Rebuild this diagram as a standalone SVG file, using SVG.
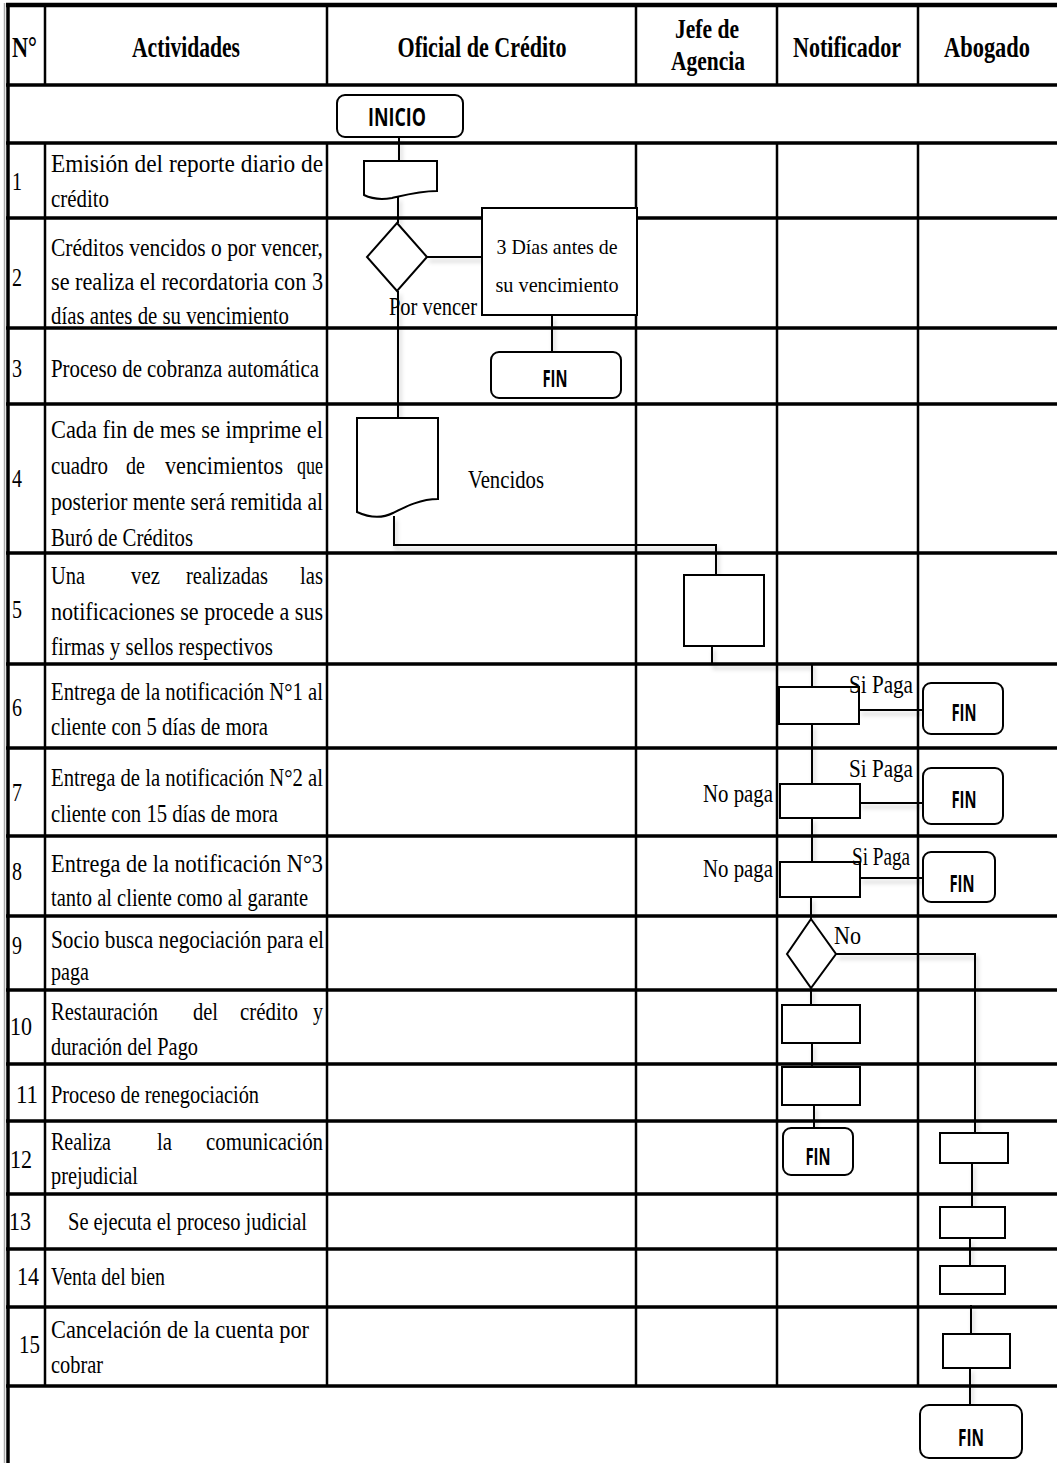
<svg xmlns="http://www.w3.org/2000/svg" width="1057" height="1463" viewBox="0 0 1057 1463">
<defs>
<style>
.gh{stroke:#000;stroke-width:3.5;fill:none}
.gv{stroke:#000;stroke-width:2.5;fill:none}
.hdr{font-family:"Liberation Serif",serif;font-weight:bold;font-size:30px;fill:#000;text-anchor:middle}
.hdr2{font-family:"Liberation Serif",serif;font-weight:bold;font-size:27px;fill:#000;text-anchor:middle}
.txt{font-family:"Liberation Serif",serif;font-size:25px;fill:#000}
.lbl{font-family:"Liberation Serif",serif;font-size:25px;fill:#000}
.term{font-family:"Open Sans","Liberation Sans",sans-serif;font-weight:bold;font-size:23px;fill:#000;text-anchor:middle}
.shape{fill:#fff;stroke:#000;stroke-width:2}
.conn{fill:none;stroke:#000;stroke-width:2}
</style>
<filter id="sh" x="-10%" y="-10%" width="130%" height="130%">
<feDropShadow dx="2" dy="4" stdDeviation="2" flood-color="#000" flood-opacity="0.22"/>
</filter>
</defs>
<rect width="1057" height="1463" fill="#fff"/>

<g id="grid">
<line x1="4.5" y1="3" x2="4.5" y2="1463" stroke="#aaa" stroke-width="1.5"/>
<line x1="8" y1="3" x2="8" y2="1463" stroke="#000" stroke-width="3.5"/>
<line x1="6" y1="5" x2="1057" y2="5" stroke="#000" stroke-width="4.5"/>
<path class="gh" d="M6 85H1057M6 143H1057M6 218H1057M6 328H1057M6 404H1057M6 553H1057M6 664H1057M6 748H1057M6 836H1057M6 916H1057M6 990H1057M6 1064H1057M6 1121H1057M6 1194H1057M6 1249H1057M6 1307H1057M6 1386H1057"/>
<path class="gv" d="M45 5V85M327 5V85M636 5V85M777 5V85M918 5V85M45 143V1386M327 143V1386M636 143V1386M777 143V1386M918 143V1386"/>
</g>

<g id="header">
<text class="hdr" x="24.5" y="57" textLength="25" lengthAdjust="spacingAndGlyphs">N°</text>
<text class="hdr" x="186" y="57" textLength="108" lengthAdjust="spacingAndGlyphs">Actividades</text>
<text class="hdr" x="482" y="57" textLength="169" lengthAdjust="spacingAndGlyphs">Oficial de Crédito</text>
<text class="hdr2" x="707" y="38" textLength="64" lengthAdjust="spacingAndGlyphs">Jefe de</text>
<text class="hdr2" x="708" y="70" textLength="74" lengthAdjust="spacingAndGlyphs">Agencia</text>
<text class="hdr" x="847" y="57" textLength="108" lengthAdjust="spacingAndGlyphs">Notificador</text>
<text class="hdr" x="987" y="57" textLength="86" lengthAdjust="spacingAndGlyphs">Abogado</text>
</g>

<g id="activities">
<text class="txt" x="12" y="190" textLength="10" lengthAdjust="spacingAndGlyphs">1</text>
<text class="txt" x="51" y="172" textLength="272" lengthAdjust="spacingAndGlyphs">Emisión del reporte diario de</text>
<text class="txt" x="51" y="207" textLength="58" lengthAdjust="spacingAndGlyphs">crédito</text>

<text class="txt" x="12" y="286" textLength="10" lengthAdjust="spacingAndGlyphs">2</text>
<text class="txt" x="51" y="256" textLength="272" lengthAdjust="spacingAndGlyphs">Créditos vencidos o por vencer,</text>
<text class="txt" x="51" y="290" textLength="272" lengthAdjust="spacingAndGlyphs">se realiza el recordatoria con 3</text>
<text class="txt" x="51" y="324" textLength="238" lengthAdjust="spacingAndGlyphs">días antes de su vencimiento</text>

<text class="txt" x="12" y="377" textLength="10" lengthAdjust="spacingAndGlyphs">3</text>
<text class="txt" x="51" y="377" textLength="268" lengthAdjust="spacingAndGlyphs">Proceso de cobranza automática</text>

<text class="txt" x="12" y="487" textLength="10" lengthAdjust="spacingAndGlyphs">4</text>
<text class="txt" x="51" y="438" textLength="272" lengthAdjust="spacingAndGlyphs">Cada fin de mes se imprime el</text>
<text class="txt" x="51" y="474" textLength="57" lengthAdjust="spacingAndGlyphs">cuadro</text>
<text class="txt" x="126" y="474" textLength="19" lengthAdjust="spacingAndGlyphs">de</text>
<text class="txt" x="165" y="474" textLength="118" lengthAdjust="spacingAndGlyphs">vencimientos</text>
<text class="txt" x="297" y="474" textLength="26" lengthAdjust="spacingAndGlyphs">que</text>
<text class="txt" x="51" y="510" textLength="272" lengthAdjust="spacingAndGlyphs">posterior mente será remitida al</text>
<text class="txt" x="51" y="546" textLength="142" lengthAdjust="spacingAndGlyphs">Buró de Créditos</text>

<text class="txt" x="12" y="618" textLength="10" lengthAdjust="spacingAndGlyphs">5</text>
<text class="txt" x="51" y="584" textLength="34" lengthAdjust="spacingAndGlyphs">Una</text>
<text class="txt" x="131" y="584" textLength="29" lengthAdjust="spacingAndGlyphs">vez</text>
<text class="txt" x="186" y="584" textLength="82" lengthAdjust="spacingAndGlyphs">realizadas</text>
<text class="txt" x="300" y="584" textLength="23" lengthAdjust="spacingAndGlyphs">las</text>
<text class="txt" x="51" y="620" textLength="272" lengthAdjust="spacingAndGlyphs">notificaciones se procede a sus</text>
<text class="txt" x="51" y="655" textLength="222" lengthAdjust="spacingAndGlyphs">firmas y sellos respectivos</text>

<text class="txt" x="12" y="716" textLength="10" lengthAdjust="spacingAndGlyphs">6</text>
<text class="txt" x="51" y="700" textLength="272" lengthAdjust="spacingAndGlyphs">Entrega de la notificación N°1 al</text>
<text class="txt" x="51" y="735" textLength="217" lengthAdjust="spacingAndGlyphs">cliente con 5 días de mora</text>

<text class="txt" x="12" y="801" textLength="10" lengthAdjust="spacingAndGlyphs">7</text>
<text class="txt" x="51" y="786" textLength="272" lengthAdjust="spacingAndGlyphs">Entrega de la notificación N°2 al</text>
<text class="txt" x="51" y="822" textLength="227" lengthAdjust="spacingAndGlyphs">cliente con 15 días de mora</text>

<text class="txt" x="12" y="880" textLength="10" lengthAdjust="spacingAndGlyphs">8</text>
<text class="txt" x="51" y="872" textLength="272" lengthAdjust="spacingAndGlyphs">Entrega de la notificación N°3</text>
<text class="txt" x="51" y="906" textLength="257" lengthAdjust="spacingAndGlyphs">tanto al cliente como al garante</text>

<text class="txt" x="12" y="954" textLength="10" lengthAdjust="spacingAndGlyphs">9</text>
<text class="txt" x="51" y="948" textLength="273" lengthAdjust="spacingAndGlyphs">Socio busca negociación para el</text>
<text class="txt" x="51" y="980" textLength="38" lengthAdjust="spacingAndGlyphs">paga</text>

<text class="txt" x="10" y="1035" textLength="22" lengthAdjust="spacingAndGlyphs">10</text>
<text class="txt" x="51" y="1020" textLength="107" lengthAdjust="spacingAndGlyphs">Restauración</text>
<text class="txt" x="193" y="1020" textLength="25" lengthAdjust="spacingAndGlyphs">del</text>
<text class="txt" x="240" y="1020" textLength="58" lengthAdjust="spacingAndGlyphs">crédito</text>
<text class="txt" x="313" y="1020" textLength="10" lengthAdjust="spacingAndGlyphs">y</text>
<text class="txt" x="51" y="1055" textLength="147" lengthAdjust="spacingAndGlyphs">duración del Pago</text>

<text class="txt" x="16" y="1103" textLength="22" lengthAdjust="spacingAndGlyphs">11</text>
<text class="txt" x="51" y="1103" textLength="208" lengthAdjust="spacingAndGlyphs">Proceso de renegociación</text>

<text class="txt" x="10" y="1168" textLength="22" lengthAdjust="spacingAndGlyphs">12</text>
<text class="txt" x="51" y="1150" textLength="60" lengthAdjust="spacingAndGlyphs">Realiza</text>
<text class="txt" x="157" y="1150" textLength="15" lengthAdjust="spacingAndGlyphs">la</text>
<text class="txt" x="206" y="1150" textLength="117" lengthAdjust="spacingAndGlyphs">comunicación</text>
<text class="txt" x="51" y="1184" textLength="87" lengthAdjust="spacingAndGlyphs">prejudicial</text>

<text class="txt" x="9" y="1230" textLength="22" lengthAdjust="spacingAndGlyphs">13</text>
<text class="txt" x="68" y="1230" textLength="239" lengthAdjust="spacingAndGlyphs">Se ejecuta el proceso judicial</text>

<text class="txt" x="17" y="1285" textLength="22" lengthAdjust="spacingAndGlyphs">14</text>
<text class="txt" x="51" y="1285" textLength="114" lengthAdjust="spacingAndGlyphs">Venta del bien</text>

<text class="txt" x="19" y="1353" textLength="21" lengthAdjust="spacingAndGlyphs">15</text>
<text class="txt" x="51" y="1338" textLength="258" lengthAdjust="spacingAndGlyphs">Cancelación de la cuenta por</text>
<text class="txt" x="51" y="1373" textLength="52" lengthAdjust="spacingAndGlyphs">cobrar</text>
</g>

<g id="connectors" filter="url(#sh)">
<path class="conn" d="M399 137V161"/>
<path class="conn" d="M398 197V223"/>
<path class="conn" d="M427 257H482"/>
<path class="conn" d="M552 315V352"/>
<path class="conn" d="M398 291V420"/>
<path class="conn" d="M394 516V545H716V575"/>
<path class="conn" d="M712 646V664H812V687"/>
<path class="conn" d="M859 710H923"/>
<path class="conn" d="M812 724V784"/>
<path class="conn" d="M860 803H923"/>
<path class="conn" d="M812 818V862"/>
<path class="conn" d="M860 878H923"/>
<path class="conn" d="M811 897V919"/>
<path class="conn" d="M836 954H975V1133"/>
<path class="conn" d="M811 988V1005"/>
<path class="conn" d="M812 1043V1067"/>
<path class="conn" d="M814 1105V1128"/>
<path class="conn" d="M972 1163V1207"/>
<path class="conn" d="M970 1238V1266"/>
<path class="conn" d="M971 1305V1334"/>
<path class="conn" d="M970 1368V1405"/>
</g>

<g id="n-inicio"><rect class="shape" x="337" y="95" width="126" height="42" rx="8"/><text class="term" x="397" y="126" textLength="58" lengthAdjust="spacingAndGlyphs" style="font-size:25px">INICIO</text></g>
<g id="n-doc1"><path class="shape" d="M364 161H437V191C420 191 405 195 392 198C380 200 372 199 364 195Z"/></g>
<g id="n-dec1"><path class="shape" d="M397 223L427 257L397 291L367 257Z"/></g>
<g id="n-3dias"><rect class="shape" x="482" y="208" width="155" height="107"/>
<text class="lbl" x="557" y="254" textLength="121" lengthAdjust="spacingAndGlyphs" style="font-size:21px;text-anchor:middle">3 Días antes de</text>
<text class="lbl" x="557" y="292" textLength="123" lengthAdjust="spacingAndGlyphs" style="font-size:21px;text-anchor:middle">su vencimiento</text></g>
<g id="n-fin1"><rect class="shape" x="491" y="352" width="130" height="46" rx="8"/><text class="term" x="555" y="387" textLength="25" lengthAdjust="spacingAndGlyphs">FIN</text></g>
<g id="n-doc2"><path class="shape" d="M357 418H438V499C420 499 405 507 393 513C383 518 370 518 357 512Z"/></g>
<g id="n-jefe5"><rect class="shape" x="684" y="575" width="80" height="71"/></g>
<g id="n-not6"><rect class="shape" x="779" y="687" width="80" height="37"/></g>
<g id="n-fin6"><rect class="shape" x="923" y="683" width="80" height="51" rx="8"/><text class="term" x="964" y="721" textLength="25" lengthAdjust="spacingAndGlyphs">FIN</text></g>
<g id="n-not7"><rect class="shape" x="780" y="784" width="80" height="34"/></g>
<g id="n-fin7"><rect class="shape" x="923" y="768" width="80" height="56" rx="8"/><text class="term" x="964" y="808" textLength="25" lengthAdjust="spacingAndGlyphs">FIN</text></g>
<g id="n-not8"><rect class="shape" x="780" y="862" width="80" height="35"/></g>
<g id="n-fin8"><rect class="shape" x="923" y="852" width="72" height="50" rx="8"/><text class="term" x="962" y="892" textLength="25" lengthAdjust="spacingAndGlyphs">FIN</text></g>
<g id="n-dec2"><path class="shape" d="M811 919L836 954L811 988L787 954Z"/></g>
<g id="n-not10"><rect class="shape" x="782" y="1005" width="78" height="38"/></g>
<g id="n-not11"><rect class="shape" x="782" y="1067" width="78" height="38"/></g>
<g id="n-fin12"><rect class="shape" x="783" y="1128" width="70" height="47" rx="8"/><text class="term" x="818" y="1165" textLength="25" lengthAdjust="spacingAndGlyphs">FIN</text></g>
<g id="n-abo12"><rect class="shape" x="940" y="1133" width="68" height="30"/></g>
<g id="n-abo13"><rect class="shape" x="940" y="1207" width="65" height="31"/></g>
<g id="n-abo14"><rect class="shape" x="940" y="1266" width="65" height="28"/></g>
<g id="n-abo15"><rect class="shape" x="943" y="1334" width="67" height="34"/></g>
<g id="n-finend"><rect class="shape" x="920" y="1405" width="102" height="53" rx="9"/><text class="term" x="971" y="1446" textLength="26" lengthAdjust="spacingAndGlyphs">FIN</text></g>

<g id="labels">
<text class="lbl" x="389" y="315" textLength="88" lengthAdjust="spacingAndGlyphs">Por vencer</text>
<text class="lbl" x="468" y="488" textLength="76" lengthAdjust="spacingAndGlyphs" style="font-size:26px">Vencidos</text>
<text class="lbl" x="849" y="693" textLength="64" lengthAdjust="spacingAndGlyphs">Si  Paga</text>
<text class="lbl" x="849" y="777" textLength="64" lengthAdjust="spacingAndGlyphs">Si  Paga</text>
<text class="lbl" x="852" y="865" textLength="58" lengthAdjust="spacingAndGlyphs">Si Paga</text>
<text class="lbl" x="703" y="802" textLength="70" lengthAdjust="spacingAndGlyphs">No paga</text>
<text class="lbl" x="703" y="877" textLength="70" lengthAdjust="spacingAndGlyphs">No paga</text>
<text class="lbl" x="834" y="944" textLength="27" lengthAdjust="spacingAndGlyphs">No</text>
</g>
</svg>
